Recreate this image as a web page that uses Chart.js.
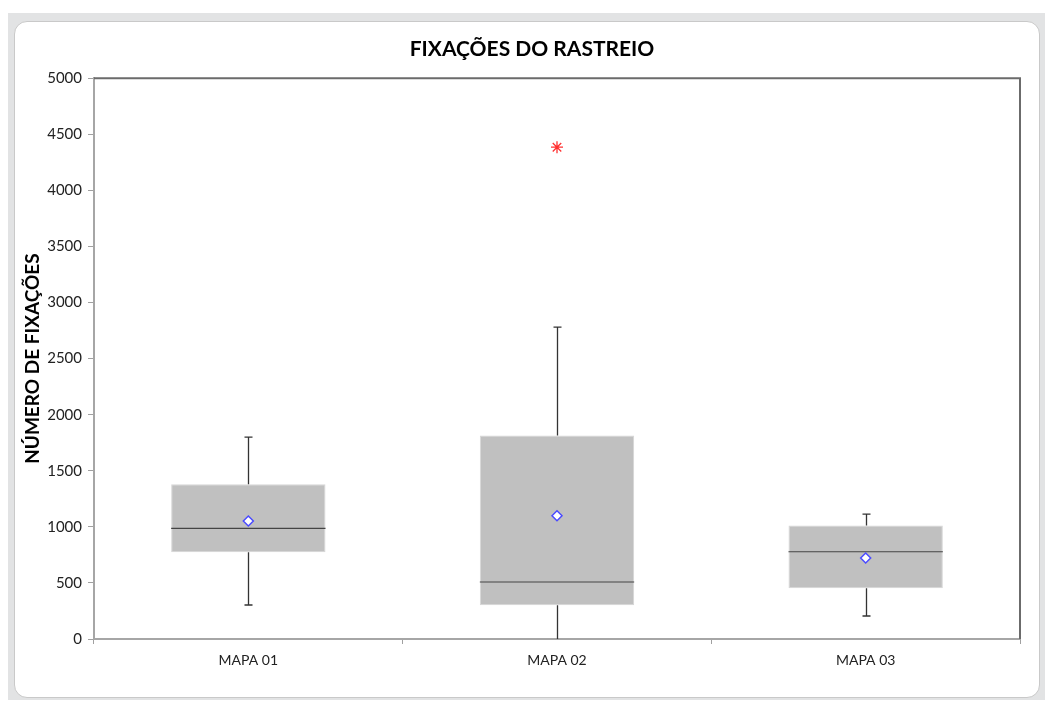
<!DOCTYPE html>
<html>
<head>
<meta charset="utf-8">
<script src="https://cdn.jsdelivr.net/npm/chart.js@4"></script>
<style>
  html, body { margin: 0; padding: 0; background: #fff; }
  #moldura {
    position: absolute; left: 8px; top: 13px; width: 1037px; height: 687px;
    background: #e2e3e4;
  }
  #painel {
    position: absolute; left: 6px; top: 8px; width: 1024px; height: 675px;
    background: #fff; border: 1px solid #c9c9c9; border-radius: 13px;
  }
  #wrap { position: absolute; left: 0; top: 0; width: 1046px; height: 701px; }
</style>
</head>
<body>
<div id="moldura"><div id="painel"></div></div>
<div id="wrap"><canvas id="graficoFixacoes" width="1046" height="701"></canvas></div>
<script>
const categorias = ["MAPA 01", "MAPA 02", "MAPA 03"];
const minimos = [303, 0, 205];        // fim do bigode inferior
const quartil1 = [773, 300, 452];
const medianas = [987, 508, 778];
const quartil3 = [1379, 1815, 1013];
const maximos = [1800, 2781, 1114];   // fim do bigode superior
const medias = [1052, 1099, 722];
const outliers = [null, 4385, null];
const ticksY = [0, 500, 1000, 1500, 2000, 2500, 3000, 3500, 4000, 4500, 5000];

const fonte = "Lato, 'Open Sans', sans-serif";

// desenha bigodes e mediana logo depois das caixas
const bigodes = {
    id: "bigodes",
    afterDatasetDraw(chart, args) {
        if (args.index !== 0) return;
        const ctx = chart.ctx;
        const y = chart.scales.y;
        const barras = args.meta.data;
        ctx.save();
        barras.forEach((bar, i) => {
            const x = Math.round(bar.x) + 0.5;
            const meia = bar.width / 2;
            const cap = 4;
            ctx.strokeStyle = "#333";
            ctx.lineWidth = 1.3;
            ctx.beginPath();
            ctx.moveTo(x, y.getPixelForValue(quartil3[i]));
            ctx.lineTo(x, y.getPixelForValue(maximos[i]));
            ctx.moveTo(x, y.getPixelForValue(quartil1[i]));
            ctx.lineTo(x, y.getPixelForValue(minimos[i]));
            if (minimos[i] > 0) {
                ctx.moveTo(x - cap, y.getPixelForValue(minimos[i]));
                ctx.lineTo(x + cap, y.getPixelForValue(minimos[i]));
            }
            ctx.moveTo(x - cap, y.getPixelForValue(maximos[i]));
            ctx.lineTo(x + cap, y.getPixelForValue(maximos[i]));
            ctx.stroke();
            ctx.strokeStyle = "#444";
            ctx.lineWidth = 1.2;
            ctx.beginPath();
            const ym = y.getPixelForValue(medianas[i]);
            ctx.moveTo(bar.x - meia, ym);
            ctx.lineTo(bar.x + meia, ym);
            ctx.stroke();
        });
        ctx.restore();
    }
};

// borda escura do topo e da direita da area de plotagem
const borda = {
    id: "borda",
    beforeDatasetsDraw(chart) {
        const a = chart.chartArea;
        const ctx = chart.ctx;
        ctx.save();
        ctx.strokeStyle = "#6b6b6b";
        ctx.lineWidth = 2;
        ctx.beginPath();
        ctx.moveTo(a.left, a.top);
        ctx.lineTo(a.right, a.top);
        ctx.lineTo(a.right, a.bottom);
        ctx.stroke();
        ctx.restore();
    }
};

const ctx = document.getElementById("graficoFixacoes").getContext("2d");
new Chart(ctx, {
    type: "bar",
    data: {
        labels: categorias,
        datasets: [
            {
                label: "Caixa",
                data: quartil1.map((q, i) => [q, quartil3[i]]),
                backgroundColor: "#c0c0c0",
                borderColor: "#d6d6d6",
                borderWidth: 1,
                borderSkipped: false,
                barPercentage: 1,
                categoryPercentage: 0.5,
                order: 3
            },
            {
                type: "line",
                label: "Média",
                data: medias,
                showLine: false,
                pointStyle: "rectRot",
                pointRadius: 5,
                pointBorderColor: "#4b4bff",
                pointBackgroundColor: "#ffffff",
                pointBorderWidth: 1.5,
                order: 1
            },
            {
                type: "line",
                label: "Outlier",
                data: outliers,
                showLine: false,
                pointStyle: "star",
                pointRadius: 6,
                pointBorderColor: "#ff3030",
                pointBorderWidth: 1.3,
                order: 1
            }
        ]
    },
    options: {
        responsive: false,
        animation: false,
        layout: { padding: { left: 44, right: 26, top: 0, bottom: 0 } },
        plugins: {
            legend: { display: false },
            tooltip: { enabled: false },
            title: {
                display: true,
                text: "FIXAÇÕES DO RASTREIO",
                color: "#000",
                font: { family: fonte, size: 21, weight: "bold" },
                padding: { top: 37, bottom: 16 }
            }
        },
        scales: {
            x: {
                offset: true,
                grid: { offset: true, drawOnChartArea: false, drawTicks: true, tickLength: 5, color: "#a0a0a0" },
                border: { color: "#a6a6a6", width: 2 },
                ticks: { color: "#222", font: { family: fonte, size: 14 }, padding: 8 },
                afterFit(scale) { scale.height = 62; }
            },
            y: {
                min: 0,
                max: 5000,
                afterBuildTicks(scale) { scale.ticks = ticksY.map(v => ({ value: v })); },
                grid: { drawOnChartArea: false, drawTicks: true, tickLength: 6, color: "#a0a0a0" },
                border: { color: "#a6a6a6", width: 2 },
                ticks: {
                    color: "#222",
                    font: { family: fonte, size: 15 },
                    padding: 6,
                    callback: v => String(v)
                },
                title: {
                    display: true,
                    text: "NÚMERO DE FIXAÇÕES",
                    color: "#000",
                    font: { family: fonte, size: 19, weight: "bold" },
                    padding: { top: -23, bottom: 0 }
                },
                afterFit(scale) { scale.width = 50; }
            }
        }
    },
    plugins: [bigodes, borda]
});
</script>
</body>
</html>
